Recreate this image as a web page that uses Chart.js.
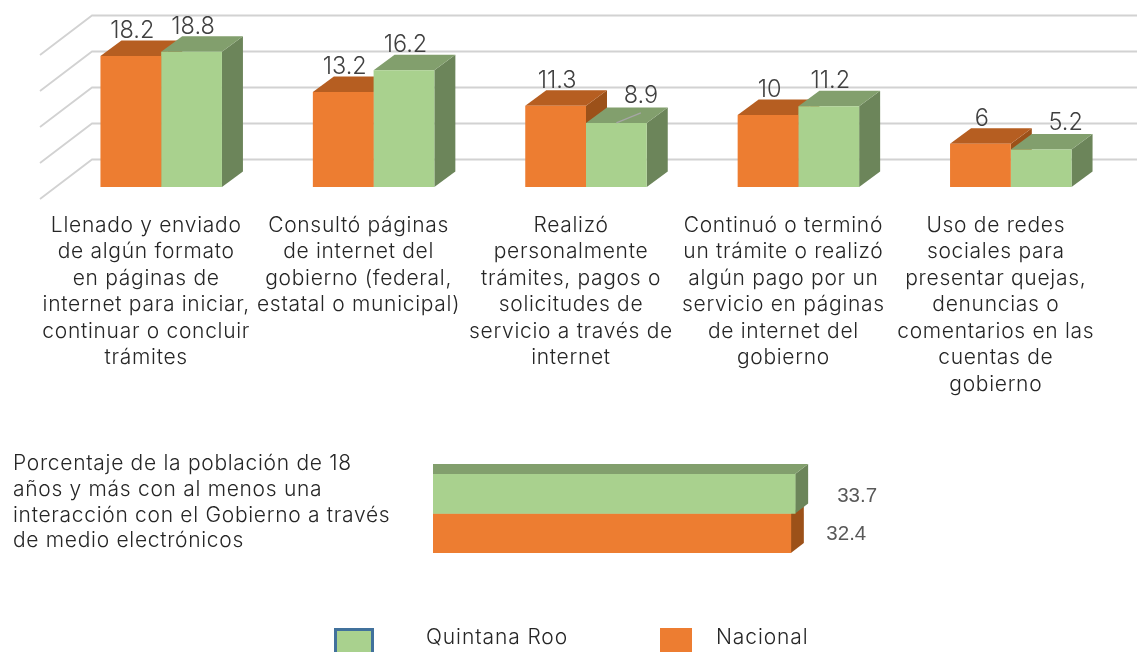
<!DOCTYPE html>
<html>
<head>
<meta charset="utf-8">
<title>Interacción con el gobierno</title>
<script src="https://cdn.jsdelivr.net/npm/chart.js@4/dist/chart.umd.min.js"></script>
<style>
  html, body { margin: 0; padding: 0; background: #fff; overflow: hidden; }
  body { width: 1137px; height: 652px; position: relative; }
  canvas { position: absolute; left: 0; }
  #topChart { top: 0; }
  #bottomChart { top: 400px; }
  .legend-text { position: absolute; top: 624px; font: 300 21px Inter, sans-serif; letter-spacing: 0.9px; color: #262626; white-space: nowrap; }
  .swatch { position: absolute; box-sizing: border-box; }
</style>
</head>
<body>
<canvas id="topChart" width="1137" height="420"></canvas>
<canvas id="bottomChart" width="1137" height="230"></canvas>
<div class="swatch" style="left:334px;top:628px;width:40px;height:30px;background:#A9D18E;border:3px solid #41719C"></div>
<div class="legend-text" id="legendA" style="left:426px"></div>
<div class="swatch" style="left:660px;top:628px;width:32px;height:30px;background:#ED7D31"></div>
<div class="legend-text" id="legendB" style="left:716px"></div>
<script>
const seriesNames = ["Nacional", "Quintana Roo"];

const categories = [
  ["Llenado y enviado", "de algún formato", "en páginas de", "internet para iniciar,", "continuar o concluir", "trámites"],
  ["Consultó páginas", "de internet del", "gobierno (federal,", "estatal o municipal)"],
  ["Realizó", "personalmente", "trámites, pagos o", "solicitudes de", "servicio a través de", "internet"],
  ["Continuó o terminó", "un trámite o realizó", "algún pago por un", "servicio en páginas", "de internet del", "gobierno"],
  ["Uso de redes", "sociales para", "presentar quejas,", "denuncias o", "comentarios en las", "cuentas de", "gobierno"]
];
const nacional = [18.2, 13.2, 11.3, 10, 6];
const quintanaRoo = [18.8, 16.2, 8.9, 11.2, 5.2];
const yTicks = [0, 5, 10, 15, 20];

const totalCategory = [["Porcentaje de la población de 18", "años y más con al menos una", "interacción con el Gobierno a través", "de medio electrónicos"]];
const totalNacional = [32.4];
const totalQuintanaRoo = [33.7];

const ORANGE = "#ED7D31", GREEN = "#A9D18E";
const orangeFaces = { top: "#B65E21", side: "#9C5119" };
const greenFaces = { top: "#829F6D", side: "#6C855A" };
const TEXT_FONT = "Inter, sans-serif";

function poly(ctx, pts, color) {
  ctx.fillStyle = color;
  ctx.beginPath();
  pts.forEach((p, i) => i ? ctx.lineTo(p[0], p[1]) : ctx.moveTo(p[0], p[1]));
  ctx.closePath();
  ctx.fill();
}

// Inter is narrower than the original font, so open the tick text up a little
const wideText = {
  id: "wideText",
  beforeDraw(chart) { chart.ctx.letterSpacing = "0.7px"; }
};

// fake 3d: floor/wall lines + bar top and side faces behind the library's bars
const columns3d = {
  id: "columns3d",
  beforeDatasetsDraw(chart) {
    const ctx = chart.ctx, y = chart.scales.y, dx = 21, dy = 15.5;
    ctx.save();
    ctx.strokeStyle = "#D2D2D2";
    ctx.lineWidth = 1.8;
    y.ticks.forEach(t => {
      const py = y.getPixelForValue(t.value);
      ctx.beginPath();
      ctx.moveTo(40, py + 12);
      ctx.lineTo(92, py - 27.5);
      ctx.lineTo(1137, py - 27.5);
      ctx.stroke();
    });
    chart.data.datasets.forEach((ds, i) => {
      const f = i ? greenFaces : orangeFaces;
      chart.getDatasetMeta(i).data.forEach(bar => {
        const l = bar.x - bar.width / 2, r = bar.x + bar.width / 2;
        poly(ctx, [[r, bar.y], [r + dx, bar.y - dy], [r + dx, bar.base - dy], [r, bar.base]], f.side);
        poly(ctx, [[l, bar.y], [l + dx, bar.y - dy], [r + dx, bar.y - dy], [r, bar.y]], f.top);
      });
    });
    ctx.restore();
  },
  afterDatasetsDraw(chart) {
    const ctx = chart.ctx;
    ctx.save();
    ctx.letterSpacing = "0px";
    ctx.font = "300 23.5px " + TEXT_FONT;
    ctx.fillStyle = "#404040";
    ctx.textAlign = "center";
    ctx.textBaseline = "middle";
    chart.data.datasets.forEach((ds, i) => {
      chart.getDatasetMeta(i).data.forEach((bar, j) => {
        const moved = i === 1 && ds.data[j] < nacional[j];
        const tx = bar.x + (moved ? 24.5 : 1.5);
        const ty = bar.y - (moved ? 27 : 25);
        if (moved && ds.data[j] === 8.9) {
          ctx.strokeStyle = "#A6A6A6";
          ctx.lineWidth = 1.2;
          ctx.beginPath();
          ctx.moveTo(bar.x, bar.y);
          ctx.lineTo(tx, ty + 17);
          ctx.stroke();
        }
        ctx.fillText(ds.data[j], tx, ty);
      });
    });
    ctx.restore();
  }
};

const bars3d = {
  id: "bars3d",
  beforeDatasetsDraw(chart) {
    const ctx = chart.ctx, dx = 13, dy = 10;
    ctx.save();
    // nacional first so the green side lies over it
    [1, 0].forEach(i => {
      const f = i ? orangeFaces : greenFaces;
      chart.getDatasetMeta(i).data.forEach(bar => {
        const t = bar.y - bar.height / 2, b = bar.y + bar.height / 2;
        poly(ctx, [[bar.x, t], [bar.x + dx, t - dy], [bar.x + dx, b - dy], [bar.x, b]], f.side);
        if (i === 0) poly(ctx, [[bar.base, t], [bar.base, t - dy], [bar.x + dx, t - dy], [bar.x, t]], f.top);
      });
    });
    ctx.restore();
  },
  afterDatasetsDraw(chart) {
    const ctx = chart.ctx;
    ctx.save();
    ctx.letterSpacing = "0px";
    ctx.font = "20.5px 'Liberation Sans', sans-serif";
    ctx.fillStyle = "#595959";
    ctx.textBaseline = "middle";
    chart.data.datasets.forEach((ds, i) => {
      chart.getDatasetMeta(i).data.forEach((bar, j) => {
        ctx.fillText(ds.data[j], bar.x + (i ? 35.5 : 42), bar.y + (i ? 1 : 3));
      });
    });
    ctx.restore();
  }
};

new Chart(document.getElementById("topChart"), {
  type: "bar",
  data: {
    labels: categories,
    datasets: [
      { label: seriesNames[0], data: nacional, backgroundColor: ORANGE },
      { label: seriesNames[1], data: quintanaRoo, backgroundColor: GREEN }
    ]
  },
  plugins: [wideText, columns3d],
  options: {
    responsive: false,
    animation: false,
    layout: { padding: { left: 55, right: 20, top: 43, bottom: 0 } },
    categoryPercentage: 0.572,
    barPercentage: 1,
    plugins: { legend: { display: false }, tooltip: { enabled: false } },
    scales: {
      x: {
        grid: { display: false, drawTicks: false },
        border: { display: false },
        afterFit(scale) { scale.height = 233; },
        ticks: {
          autoSkip: false,
          maxRotation: 0,
          padding: 25,
          labelOffset: -15,
          color: "#262626",
          font: { family: TEXT_FONT, size: 21, weight: 300, lineHeight: 1.262 }
        }
      },
      y: {
        display: false,
        min: yTicks[0],
        max: yTicks[yTicks.length - 1],
        afterBuildTicks(scale) { scale.ticks = yTicks.map(v => ({ value: v })); }
      }
    }
  }
});

new Chart(document.getElementById("bottomChart"), {
  type: "bar",
  data: {
    labels: totalCategory,
    datasets: [
      { label: seriesNames[1], data: totalQuintanaRoo, backgroundColor: GREEN, base: -75.7 },
      { label: seriesNames[0], data: totalNacional, backgroundColor: ORANGE, base: -75.7 }
    ]
  },
  plugins: [wideText, bars3d],
  options: {
    indexAxis: "y",
    responsive: false,
    animation: false,
    layout: { padding: { left: 13, right: 321, top: 74, bottom: 77 } },
    categoryPercentage: 1,
    barPercentage: 1,
    plugins: { legend: { display: false }, tooltip: { enabled: false } },
    scales: {
      x: { display: false, min: -75.7, max: 40 },
      y: {
        grid: { display: false, drawTicks: false },
        border: { display: false },
        afterFit(scale) { scale.width = 420; },
        ticks: {
          crossAlign: "far",
          padding: 0,
          labelOffset: -11,
          color: "#262626",
          font: { family: TEXT_FONT, size: 21, weight: 300, lineHeight: 1.224 }
        }
      }
    }
  }
});

document.getElementById("legendA").textContent = seriesNames[1];
document.getElementById("legendB").textContent = seriesNames[0];
</script>
</body>
</html>
